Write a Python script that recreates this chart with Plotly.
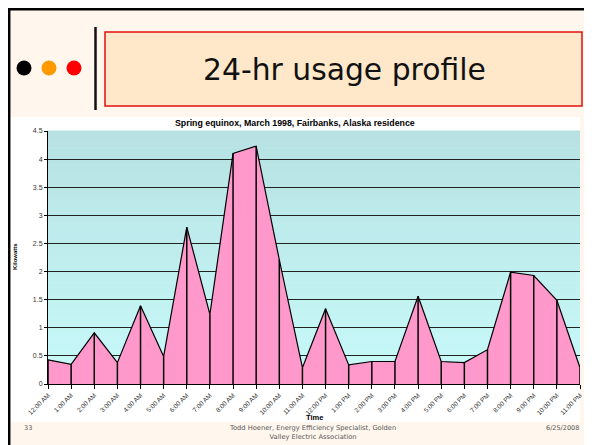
import plotly.graph_objects as go

hours = ["12:00 AM", "1:00 AM", "2:00 AM", "3:00 AM", "4:00 AM", "5:00 AM",
         "6:00 AM", "7:00 AM", "8:00 AM", "9:00 AM", "10:00 AM", "11:00 AM",
         "12:00 PM", "1:00 PM", "2:00 PM", "3:00 PM", "4:00 PM", "5:00 PM",
         "6:00 PM", "7:00 PM", "8:00 PM", "9:00 PM", "10:00 PM", "11:00 PM"]
kilowatts = [0.43, 0.35, 0.91, 0.38, 1.39, 0.49, 2.79, 1.24, 4.10, 4.23, 2.21, 0.29,
             1.34, 0.34, 0.40, 0.40, 1.56, 0.40, 0.38, 0.61, 1.99, 1.93, 1.49, 0.29]

# the page body has an 8px margin, so the figure is drawn 8px in and 8px smaller
OFF = 8
W, H = 592 - OFF, 445 - OFF
# plot area in window pixels
X0, X1, Y0, Y1 = 48, 580, 131, 384
L, R, T, B = X0 - OFF, W - (X1 - OFF), Y0 - OFF, H - (Y1 - OFF)
pw, ph = W - L - R, H - T - B


# window pixel -> paper helpers for the slide decoration
def px(x):
    return (x - OFF - L) / pw


def py(y):
    return (H - B - (y - OFF)) / ph


fig = go.Figure()
fig.add_trace(go.Scatter(
    x=hours, y=kilowatts, mode="lines", fill="tozeroy",
    fillcolor="#ff99cc", line=dict(color="black", width=1.2),
    error_y=dict(type="data", symmetric=False, array=[0] * len(kilowatts),
                 arrayminus=kilowatts, width=0, color="black", thickness=1.5),
    hoverinfo="x+y", showlegend=False,
))

shapes = []
# slide background and border
shapes.append(dict(type="rect", xref="paper", yref="paper", layer="below",
                   x0=px(8), x1=px(600), y0=py(450), y1=py(8),
                   fillcolor="#fff7ed", line=dict(width=0)))
shapes.append(dict(type="line", xref="paper", yref="paper", layer="below",
                   x0=px(8), x1=px(600), y0=py(9.2), y1=py(9.2),
                   line=dict(color="black", width=2.5)))
shapes.append(dict(type="line", xref="paper", yref="paper", layer="below",
                   x0=px(9.2), x1=px(9.2), y0=py(8), y1=py(450),
                   line=dict(color="black", width=2.5)))
# title box and divider
shapes.append(dict(type="rect", xref="paper", yref="paper", layer="below",
                   x0=px(105), x1=px(582), y0=py(106), y1=py(32),
                   fillcolor="#ffe8c9", line=dict(color="#e01010", width=1.5)))
shapes.append(dict(type="line", xref="paper", yref="paper", layer="below",
                   x0=px(95.5), x1=px(95.5), y0=py(27), y1=py(110),
                   line=dict(color="#111111", width=2.5)))
for cx, col in [(24, "black"), (49, "#ff9900"), (74, "#ff0000")]:
    shapes.append(dict(type="circle", xref="paper", yref="paper", layer="below",
                       x0=px(cx - 7.5), x1=px(cx + 7.5), y0=py(68 + 7.5), y1=py(68 - 7.5),
                       fillcolor=col, line=dict(width=0)))
# white chart panel
shapes.append(dict(type="rect", xref="paper", yref="paper", layer="below",
                   x0=px(11), x1=px(580), y0=py(422), y1=py(117),
                   fillcolor="white", line=dict(width=0)))
# plot area gradient
top_c = (183, 225, 227)
bot_c = (200, 250, 250)
n = 30
for i in range(n):
    t = (i + 0.5) / n
    c = tuple(round(top_c[k] + (bot_c[k] - top_c[k]) * (1 - t)) for k in range(3))
    shapes.append(dict(type="rect", xref="x domain", yref="y domain", layer="below",
                       x0=0, x1=1, y0=i / n, y1=(i + 1) / n + 0.002,
                       fillcolor="rgb(%d,%d,%d)" % c, line=dict(width=0)))


def note(text, x, y, size, color="#555555", family="DejaVu Sans", xanchor="center", angle=0):
    return dict(text=text, xref="paper", yref="paper", x=px(x), y=py(y), showarrow=False,
                xanchor=xanchor, yanchor="middle", textangle=angle,
                font=dict(family=family, size=size, color=color))


annotations = [
    note("24-hr usage profile", 344, 69, 29.8, "#111111"),
    note("<b>Spring equinox, March 1998, Fairbanks, Alaska residence</b>", 295, 123, 8.8,
         "black", "Liberation Sans"),
    note("<b>Kilowatts</b>", 15, 257, 6, "black", "Liberation Sans", angle=-90),
    note("<b>Time</b>", 314, 417, 7.5, "black", "Liberation Sans"),
    note("33", 22, 428, 6.5, xanchor="left"),
    note("Todd Hoener, Energy Efficiency Specialist, Golden<br>Valley Electric Association",
         312, 432.5, 6.7),
    note("6/25/2008", 581, 428, 6.5, xanchor="right"),
]

fig.update_layout(
    width=W, height=H,
    margin=dict(l=L, r=R, t=T, b=B, autoexpand=False),
    paper_bgcolor="white",
    plot_bgcolor="rgba(0,0,0,0)",
    font=dict(family="Liberation Sans", size=7, color="#333333"),
    shapes=shapes,
    annotations=annotations,
    xaxis=dict(
        type="category", range=[0, len(hours) - 1], tickangle=-45,
        ticks="outside", ticklen=4, tickcolor="black", showgrid=False,
        showline=True, linecolor="black", linewidth=1, zeroline=False,
        tickfont=dict(size=6.5, color="#333333"), automargin=False,
    ),
    yaxis=dict(
        range=[0, 4.5], dtick=0.5, ticks="outside", ticklen=3, tickcolor="black",
        showgrid=True, gridcolor="#222222", gridwidth=1, zeroline=False,
        showline=True, linecolor="black", linewidth=1,
        tickfont=dict(size=7, color="#333333"), automargin=False,
    ),
)

fig.write_html("out.html")
